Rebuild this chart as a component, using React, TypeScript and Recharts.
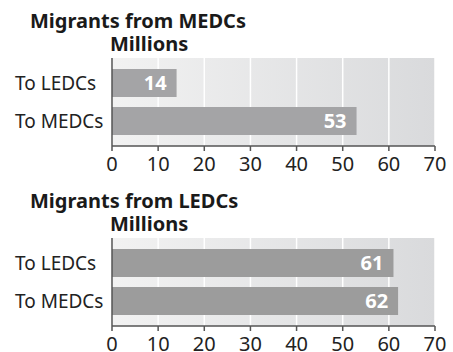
import { BarChart, Bar, XAxis, YAxis, CartesianGrid, LabelList } from "recharts"

// categories and values (millions)
const categories = ["To LEDCs", "To MEDCs"]
const fromMedcs = [14, 53]
const fromLedcs = [61, 62]
const xTicks = [0, 10, 20, 30, 40, 50, 60, 70]

const FONT = "'Noto Sans', 'DejaVu Sans', sans-serif"

const CategoryTick = ({ y, payload }: any) => (
  <text x={15} y={y} dy="0.35em" textAnchor="start" fontSize={19} fill="#222" fontFamily={FONT}>
    {payload.value}
  </text>
)

function MigrationChart({ id, title, values, top, color }: any) {
  const data = categories.map((name, i) => ({ name, value: values[i] }))
  const titleStyle: any = {
    position: "absolute",
    fontFamily: FONT,
    fontWeight: 700,
    fontSize: 20,
    lineHeight: "20px",
    color: "#1a1a1a",
    whiteSpace: "nowrap",
  }
  return (
    <div style={{ position: "absolute", left: 0, top, width: 453, height: 176 }}>
      <div style={{ ...titleStyle, left: 30, top: 11 }}>{title}</div>
      <div style={{ ...titleStyle, left: 110, top: 34 }}>Millions</div>
      <BarChart
        width={453}
        height={176}
        data={data}
        layout="vertical"
        margin={{ top: 58, right: 18, left: 15, bottom: 0 }}
        style={{ position: "absolute", left: 0, top: 0 }}
      >
        <defs>
          <linearGradient id={id} x1="0" y1="0" x2="1" y2="0">
            <stop offset="0%" stopColor="#f2f2f2" />
            <stop offset="100%" stopColor="#d9dadc" />
          </linearGradient>
        </defs>
        <CartesianGrid horizontal={false} stroke="#ffffff" strokeWidth={1.5} fill={`url(#${id})`} fillOpacity={1} />
        <XAxis
          type="number"
          domain={[0, 70]}
          ticks={xTicks}
          height={30}
          tickSize={5}
          tickMargin={6}
          axisLine={{ stroke: "#555", strokeWidth: 1.5 }}
          tickLine={{ stroke: "#555", strokeWidth: 1.5 }}
          tick={{ fontSize: 20, fill: "#222", fontFamily: FONT }}
        />
        <YAxis
          type="category"
          dataKey="name"
          width={97}
          padding={{ top: 6, bottom: 6 }}
          axisLine={{ stroke: "#555", strokeWidth: 1.5 }}
          tickLine={false}
          tick={<CategoryTick />}
        />
        <Bar dataKey="value" fill={color} barSize={28} isAnimationActive={false}>
          <LabelList
            dataKey="value"
            position="insideRight"
            offset={10}
            fill="#ffffff"
            fontSize={20}
            fontWeight={700}
            fontFamily={FONT}
          />
        </Bar>
      </BarChart>
    </div>
  )
}

export default function App() {
  return (
    <div style={{ position: "absolute", left: 0, top: 0, width: 453, height: 352, background: "#fff", overflow: "hidden" }}>
      <MigrationChart id="bgMedc" title="Migrants from MEDCs" values={fromMedcs} top={0} color="#a4a4a6" />
      <MigrationChart id="bgLedc" title="Migrants from LEDCs" values={fromLedcs} top={180} color="#9c9c9c" />
    </div>
  )
}
